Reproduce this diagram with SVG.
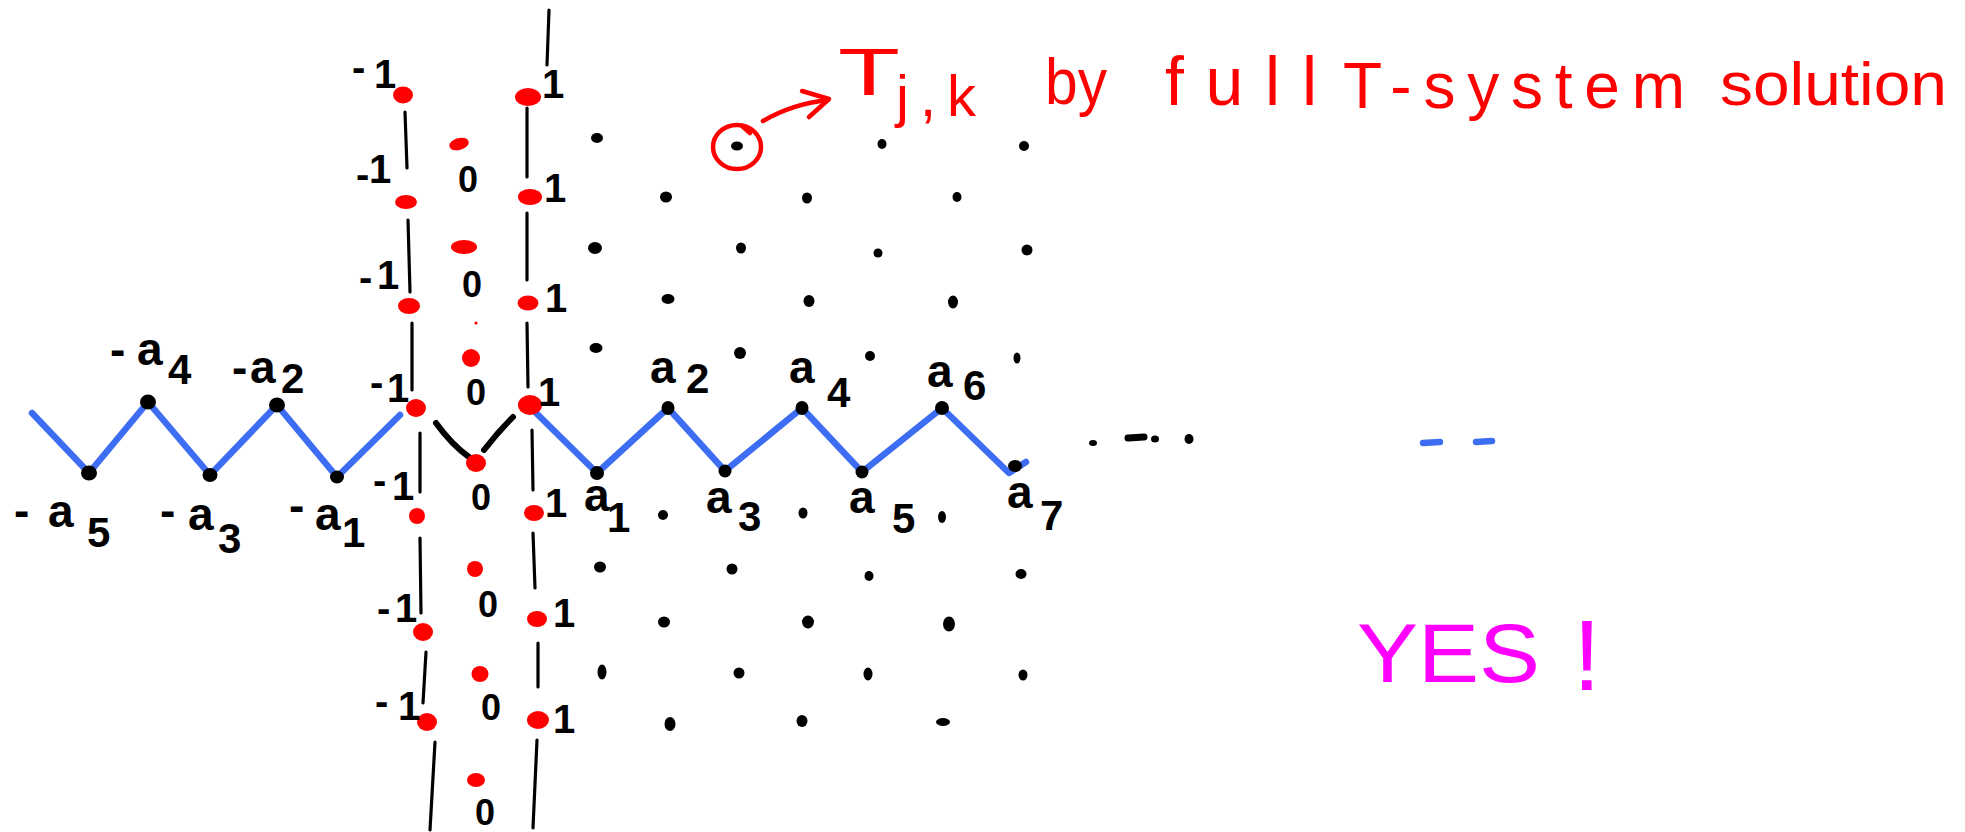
<svg xmlns="http://www.w3.org/2000/svg" width="1965" height="832" viewBox="0 0 1965 832">
<style>
.bg{fill:#ffffff}
.blue{fill:none;stroke:#3d6df2;stroke-width:6.5;stroke-linecap:round;stroke-linejoin:round}
.blk{fill:none;stroke:#000;stroke-width:6;stroke-linecap:round}
.vl{fill:none;stroke:#000;stroke-width:3.2;stroke-linecap:round}
.rd{fill:#ff0000}
.nd{fill:#000}
.lab{font-family:"Liberation Sans","DejaVu Sans",sans-serif;font-weight:bold;fill:#000}
.sub{font-size:42px}
.red{font-family:"Liberation Sans","DejaVu Sans",sans-serif;fill:#ff0000}
.rs{fill:none;stroke:#ff0000;stroke-width:4.5;stroke-linecap:round;stroke-linejoin:round}
.yes{font-family:"Liberation Sans","DejaVu Sans",sans-serif;fill:#ff00ff}
</style>
<rect class="bg" x="0" y="0" width="1965" height="832"/>

<g id="connectors">
  <polyline class="blue" points="32,413 89,473 148,402 210,475 277,405 337,477 400,415"/>
  <polyline class="blue" points="528,405 597,473 668,408 725,471 802,408 862,472 942,408 1009,473 1026,462"/>
  <path class="blk" d="M436,423 Q452,445 469,457"/>
  <path class="blk" d="M484,450 Q498,432 513,417"/>
  <path class="blue" d="M1423,443 L1440,442 M1476,442 L1492,441" stroke-width="5"/>
</g>

<g id="vertical-lines">
  <path class="vl" d="M405,112 L407,168 M408,220 L410,292 M412,323 L412,390 M420,433 L420,492 M420,538 L421,613 M426,652 L423,703 M435,742 L430,830"/>
  <path class="vl" d="M549,10 L547,65 M527,108 L527,177 M527,213 L527,280 M527,323 L528,387 M532,430 L533,490 M533,533 L535,588 M538,643 L538,687 M537,740 L533,828"/>
</g>

<g id="red-dots">
  <ellipse class="rd" cx="403" cy="95" rx="10" ry="8.5"/>
  <ellipse class="rd" cx="406" cy="202" rx="11" ry="7"/>
  <ellipse class="rd" cx="409" cy="306" rx="11" ry="8"/>
  <ellipse class="rd" cx="416" cy="408" rx="10" ry="9"/>
  <ellipse class="rd" cx="417" cy="516" rx="8" ry="8"/>
  <ellipse class="rd" cx="423" cy="632" rx="10" ry="9"/>
  <ellipse class="rd" cx="427" cy="722" rx="10" ry="9"/>
  <ellipse class="rd" cx="459" cy="144" rx="10" ry="6" transform="rotate(-15 459 144)"/>
  <ellipse class="rd" cx="464" cy="247" rx="13" ry="7"/>
  <circle class="rd" cx="476" cy="323" r="1.6"/>
  <ellipse class="rd" cx="471" cy="358" rx="9" ry="9"/>
  <ellipse class="rd" cx="476" cy="463" rx="10" ry="9"/>
  <ellipse class="rd" cx="475" cy="569" rx="8" ry="8"/>
  <ellipse class="rd" cx="480" cy="674" rx="8.5" ry="8"/>
  <ellipse class="rd" cx="476" cy="780" rx="9" ry="7"/>
  <ellipse class="rd" cx="528" cy="97" rx="13" ry="9"/>
  <ellipse class="rd" cx="530" cy="197" rx="12" ry="8"/>
  <ellipse class="rd" cx="528" cy="303" rx="10.5" ry="7.5"/>
  <ellipse class="rd" cx="530" cy="405" rx="12" ry="10"/>
  <ellipse class="rd" cx="534" cy="513" rx="10" ry="8"/>
  <ellipse class="rd" cx="537" cy="619" rx="10" ry="8"/>
  <ellipse class="rd" cx="538" cy="720" rx="11" ry="9"/>
</g>

<g id="zigzag-nodes">
  <ellipse class="nd" cx="89" cy="473" rx="8" ry="7.5"/>
  <ellipse class="nd" cx="148" cy="402" rx="8" ry="7.5"/>
  <ellipse class="nd" cx="210" cy="475" rx="7.5" ry="7"/>
  <ellipse class="nd" cx="277" cy="405" rx="8" ry="7.5"/>
  <ellipse class="nd" cx="337" cy="477" rx="7" ry="6.5"/>
  <ellipse class="nd" cx="597" cy="473" rx="7" ry="7"/>
  <ellipse class="nd" cx="668" cy="408" rx="6.5" ry="7"/>
  <ellipse class="nd" cx="725" cy="471" rx="6.5" ry="6.5"/>
  <ellipse class="nd" cx="802" cy="408" rx="6.5" ry="7"/>
  <ellipse class="nd" cx="862" cy="472" rx="6.5" ry="6.5"/>
  <ellipse class="nd" cx="942" cy="408" rx="7" ry="7"/>
  <ellipse class="nd" cx="1015" cy="466" rx="7" ry="6"/>
</g>

<g id="grid-dots">
  <ellipse class="nd" cx="597" cy="138" rx="6" ry="5"/>
  <ellipse class="nd" cx="737" cy="146" rx="6" ry="4.5"/>
  <ellipse class="nd" cx="882" cy="144" rx="4.5" ry="5"/>
  <ellipse class="nd" cx="1024" cy="146" rx="5" ry="5"/>
  <ellipse class="nd" cx="666" cy="197" rx="6" ry="5.5"/>
  <ellipse class="nd" cx="807" cy="198" rx="5" ry="5.5"/>
  <ellipse class="nd" cx="957" cy="197" rx="4.5" ry="5"/>
  <ellipse class="nd" cx="595" cy="248" rx="7" ry="6"/>
  <ellipse class="nd" cx="741" cy="248" rx="5" ry="5.5"/>
  <ellipse class="nd" cx="878" cy="253" rx="4.5" ry="4.5"/>
  <ellipse class="nd" cx="1027" cy="250" rx="5.5" ry="5.5"/>
  <ellipse class="nd" cx="668" cy="299" rx="6.5" ry="5"/>
  <ellipse class="nd" cx="809" cy="301" rx="5.5" ry="6"/>
  <ellipse class="nd" cx="953" cy="302" rx="5" ry="6.5"/>
  <ellipse class="nd" cx="596" cy="348" rx="6.5" ry="5"/>
  <ellipse class="nd" cx="740" cy="353" rx="6" ry="6"/>
  <ellipse class="nd" cx="870" cy="356" rx="5" ry="5"/>
  <ellipse class="nd" cx="1017" cy="358" rx="3.5" ry="5.5"/>
  <ellipse class="nd" cx="663" cy="515" rx="5" ry="5"/>
  <ellipse class="nd" cx="803" cy="513" rx="4.5" ry="5.5"/>
  <ellipse class="nd" cx="942" cy="517" rx="4" ry="6"/>
  <ellipse class="nd" cx="600" cy="567" rx="6" ry="5.5"/>
  <ellipse class="nd" cx="732" cy="569" rx="5.5" ry="5.5"/>
  <ellipse class="nd" cx="869" cy="576" rx="4.5" ry="5"/>
  <ellipse class="nd" cx="1021" cy="574" rx="5.5" ry="5"/>
  <ellipse class="nd" cx="664" cy="622" rx="6" ry="5.5"/>
  <ellipse class="nd" cx="808" cy="622" rx="6" ry="6.5"/>
  <ellipse class="nd" cx="949" cy="624" rx="6" ry="7.5"/>
  <ellipse class="nd" cx="602" cy="672" rx="4.5" ry="7.5"/>
  <ellipse class="nd" cx="739" cy="673" rx="5.5" ry="5.5"/>
  <ellipse class="nd" cx="868" cy="674" rx="4.5" ry="6.5"/>
  <ellipse class="nd" cx="1023" cy="675" rx="4.5" ry="5.5"/>
  <ellipse class="nd" cx="670" cy="724" rx="5.5" ry="7"/>
  <ellipse class="nd" cx="802" cy="721" rx="5.5" ry="6"/>
  <ellipse class="nd" cx="943" cy="722" rx="7" ry="4"/>
  <ellipse class="nd" cx="1093" cy="443" rx="4" ry="3"/>
  <path d="M1128,438 L1144,437" stroke="#000" stroke-width="7" stroke-linecap="round"/>
  <ellipse class="nd" cx="1155" cy="439" rx="4" ry="3.5"/>
  <ellipse class="nd" cx="1189" cy="439" rx="4.5" ry="5"/>
</g>

<g id="chain-labels" class="lab" font-size="46">
  <text y="365"><tspan x="110">-</tspan><tspan x="137">a</tspan><tspan class="sub" x="168" y="384">4</tspan></text>
  <text y="383"><tspan x="232">-</tspan><tspan x="250">a</tspan><tspan class="sub" x="281" y="393">2</tspan></text>
  <text y="526"><tspan x="14">-</tspan><tspan x="48" y="527">a</tspan><tspan class="sub" x="87" y="547">5</tspan></text>
  <text y="526"><tspan x="160">-</tspan><tspan x="188" y="530">a</tspan><tspan class="sub" x="218" y="553">3</tspan></text>
  <text y="521"><tspan x="289">-</tspan><tspan x="315" y="530">a</tspan><tspan class="sub" x="342" y="547">1</tspan></text>
  <text x="650" y="383">a<tspan class="sub" x="686" y="393">2</tspan></text>
  <text x="789" y="383">a<tspan class="sub" x="827" y="407">4</tspan></text>
  <text x="927" y="387">a<tspan class="sub" x="963" y="400">6</tspan></text>
  <text x="584" y="511">a<tspan class="sub" x="607" y="532">1</tspan></text>
  <text x="706" y="513">a<tspan class="sub" x="738" y="531">3</tspan></text>
  <text x="849" y="513">a<tspan class="sub" x="892" y="533">5</tspan></text>
  <text x="1007" y="508">a<tspan class="sub" x="1040" y="530">7</tspan></text>
</g>

<g id="column-labels" class="lab" font-size="40">
  <text><tspan x="352" y="81">-</tspan><tspan x="374" y="88">1</tspan></text>
  <text><tspan x="356" y="188">-</tspan><tspan x="369" y="183">1</tspan></text>
  <text><tspan x="359" y="291">-</tspan><tspan x="377" y="289">1</tspan></text>
  <text><tspan x="370" y="396">-</tspan><tspan x="387" y="402">1</tspan></text>
  <text><tspan x="373" y="494">-</tspan><tspan x="392" y="500">1</tspan></text>
  <text><tspan x="377" y="622">-</tspan><tspan x="395" y="622">1</tspan></text>
  <text><tspan x="375" y="715">-</tspan><tspan x="398" y="720">1</tspan></text>
  <text x="542" y="98">1</text>
  <text x="544" y="202">1</text>
  <text x="545" y="312">1</text>
  <text x="538" y="406">1</text>
  <text x="545" y="517">1</text>
  <text x="553" y="627">1</text>
  <text x="553" y="733">1</text>
  <g font-size="36">
    <text x="458" y="192">0</text>
    <text x="462" y="297">0</text>
    <text x="466" y="405">0</text>
    <text x="471" y="510">0</text>
    <text x="478" y="617">0</text>
    <text x="481" y="720">0</text>
    <text x="475" y="825">0</text>
  </g>
</g>

<g id="annotation">
  <ellipse class="rs" cx="737" cy="147" rx="24" ry="22"/>
  <path class="rs" d="M742,126 L750,133"/>
  <path class="rs" d="M763,121 Q792,104 828,100"/>
  <path class="rs" d="M802,91 L829,99 L809,117"/>
  <text class="red" x="838" y="95" font-size="66" textLength="62" lengthAdjust="spacingAndGlyphs">T</text>
  <text class="red" x="896" y="116" font-size="58" textLength="80" lengthAdjust="spacing">j,k</text>
  <text class="red" x="1045" y="104" font-size="64" textLength="62" lengthAdjust="spacingAndGlyphs">by</text>
  <text class="red" x="1165" y="105" font-size="68" textLength="152" lengthAdjust="spacing">full</text>
  <text class="red" x="1343" y="108" font-size="64" textLength="342" lengthAdjust="spacing">T-system</text>
  <text class="red" x="1720" y="105" font-size="62" textLength="227" lengthAdjust="spacingAndGlyphs">solution</text>
</g>

<g id="yes">
  <text class="yes" x="1357" y="682" font-size="84" textLength="183" lengthAdjust="spacingAndGlyphs">YES</text>
  <text class="yes" x="1573" y="690" font-size="100">!</text>
</g>
</svg>
